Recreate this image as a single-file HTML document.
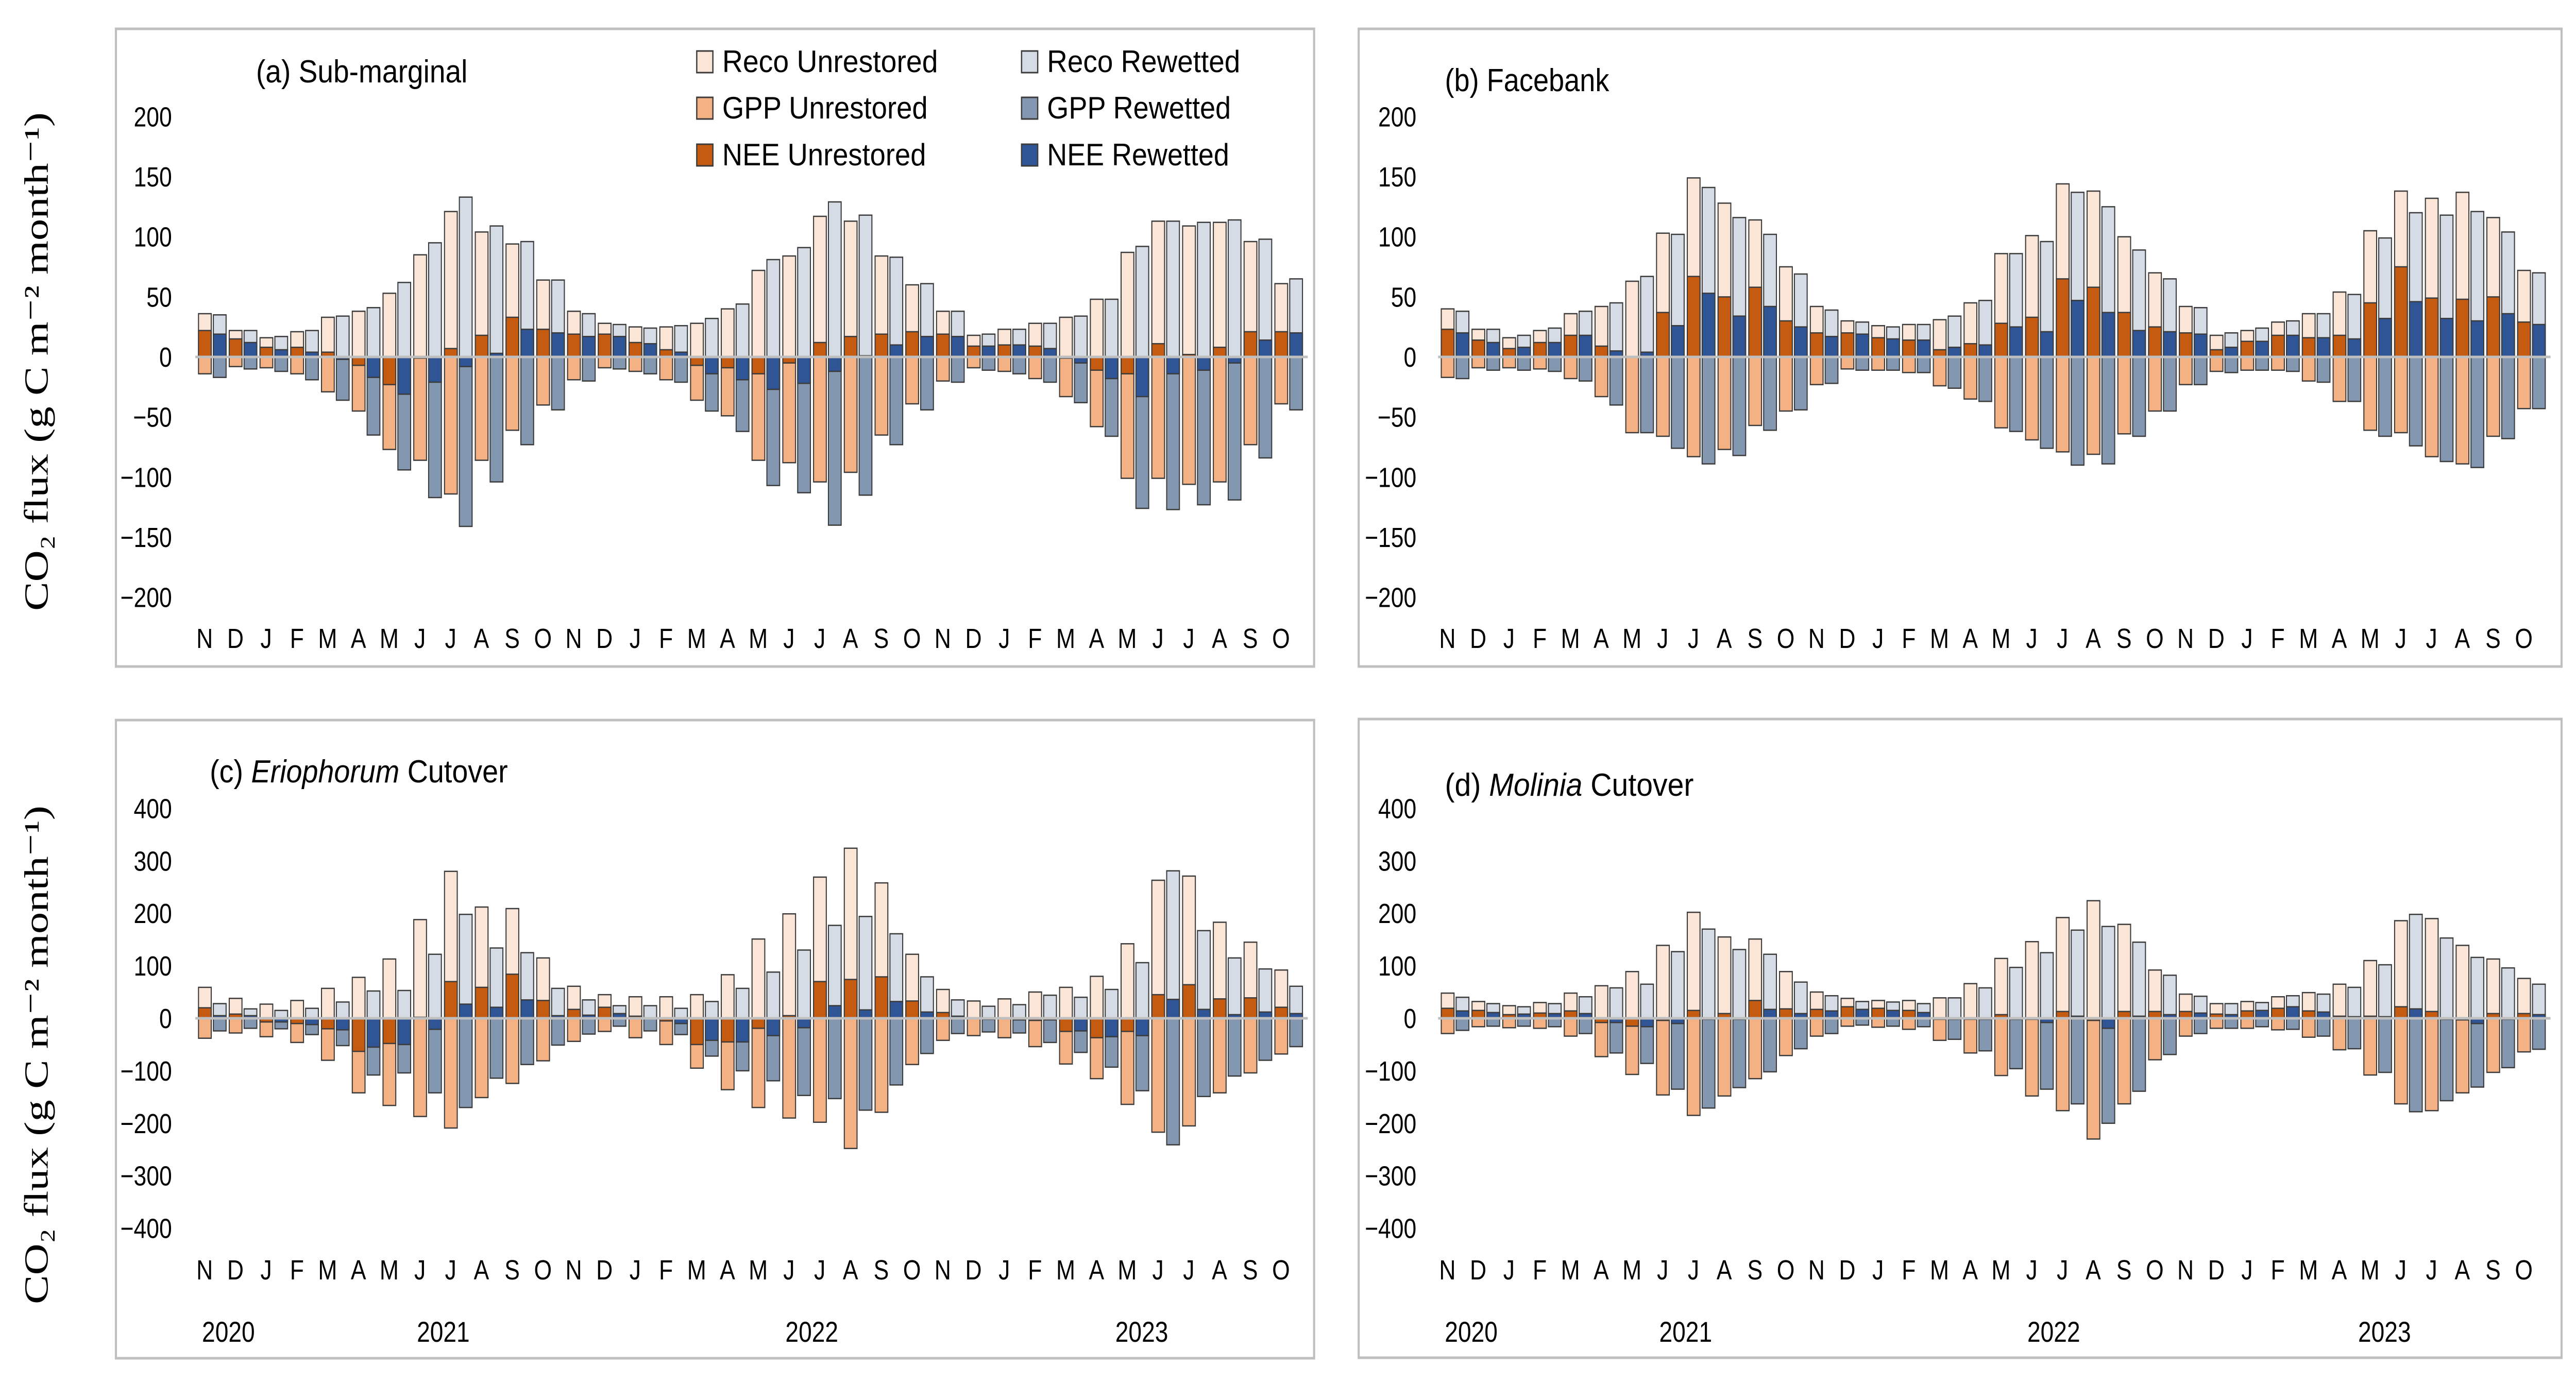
<!DOCTYPE html>
<html><head><meta charset="utf-8"><title>CO2 flux panels</title>
<style>
html,body{margin:0;padding:0;background:#fff;width:100%;height:100%;overflow:hidden;}
svg{display:block;width:100vw;height:100vh;}
text{font-family:"Liberation Sans",sans-serif;fill:#000;}
.serif{font-family:"Liberation Serif",serif;}
</style></head>
<body>
<svg id="chart" xmlns="http://www.w3.org/2000/svg" viewBox="0 0 6067 2687" preserveAspectRatio="none">
<rect x="0" y="0" width="6067" height="2687" fill="#fff"/>
</svg>
<script>
const months = ['N','D','J','F','M','A','M','J','J','A','S','O','N','D','J','F','M','A','M','J','J','A','S','O','N','D','J','F','M','A','M','J','J','A','S','O'];
const yearLabels = ['2020','2021','2022','2023'];
const ticksTop = [200,150,100,50,0,-50,-100,-150,-200];
const ticksBottom = [400,300,200,100,0,-100,-200,-300,-400];

const aRecoU = [36,22,16,21,33,38,53,85,121,104,94,64, 38,28,25,25,28,40,72,84,117,113,84,60, 38,18,23,28,33,48,87,113,109,112,96,61];
const aGppU = [-14,-8,-9,-14,-29,-45,-77,-86,-114,-86,-61,-40, -19,-9,-12,-19,-36,-49,-86,-88,-104,-96,-65,-39, -20,-9,-12,-18,-33,-58,-101,-101,-106,-104,-73,-39];
const aNeeU = [22,15,8,8,4,-7,-23,-1,7,18,33,23, 19,19,12,6,-7,-9,-14,-5,12,17,19,21, 19,9,10,9,-1,-11,-14,11,2,8,21,21];
const aRecoR = [35,22,17,22,34,41,62,95,133,109,96,64, 36,27,24,26,32,44,81,91,129,118,83,61, 38,19,23,28,34,48,92,113,112,114,98,65];
const aGppR = [-17,-10,-12,-19,-36,-65,-94,-117,-141,-104,-73,-44, -20,-10,-14,-21,-45,-62,-107,-113,-140,-115,-73,-44, -21,-11,-14,-21,-38,-66,-126,-127,-123,-119,-84,-44];
const aNeeR = [19,12,6,4,-2,-17,-31,-21,-8,3,23,20, 17,17,11,4,-14,-19,-27,-22,-12,1,10,17, 17,9,10,7,-5,-18,-33,-14,-11,-5,14,20];

const bRecoU = [40,23,16,22,36,42,63,103,149,128,114,75, 42,30,26,27,31,45,86,101,144,138,100,70, 42,18,22,29,36,54,105,138,132,137,116,72];
const bGppU = [-17,-9,-9,-10,-18,-33,-63,-66,-83,-77,-57,-45, -23,-10,-11,-13,-24,-35,-59,-69,-79,-81,-64,-45, -23,-12,-11,-11,-20,-37,-61,-63,-83,-89,-66,-43];
const bNeeU = [23,14,7,12,18,9,0,37,67,50,58,30, 20,20,16,14,6,11,28,33,65,58,37,25, 20,6,13,18,16,18,45,75,49,48,50,29];
const bRecoR = [38,23,18,24,38,45,67,102,141,116,102,69, 39,29,25,27,34,47,86,96,137,125,89,65, 41,20,24,30,36,52,99,120,118,121,104,70];
const bGppR = [-18,-11,-11,-12,-20,-40,-63,-76,-89,-82,-61,-44, -22,-11,-11,-13,-26,-37,-62,-76,-90,-89,-66,-45, -23,-13,-11,-12,-21,-37,-66,-74,-87,-92,-68,-43];
const bNeeR = [20,12,8,12,18,5,4,26,53,34,42,25, 17,19,15,14,8,10,25,21,47,37,22,21, 19,8,13,18,16,15,32,46,32,30,36,27];

const cRecoU = [59,38,27,34,57,78,113,188,280,212,209,115, 61,45,41,41,45,83,151,199,269,324,258,122, 55,33,37,50,59,80,142,263,271,183,145,92];
const cGppU = [-38,-28,-35,-46,-80,-142,-166,-187,-209,-151,-124,-81, -44,-25,-37,-50,-95,-136,-170,-190,-198,-248,-179,-88, -42,-33,-37,-54,-87,-115,-164,-217,-205,-142,-104,-68];
const cNeeU = [20,8,-7,-10,-20,-63,-48,2,70,59,84,34, 17,21,4,-5,-50,-45,-19,5,70,74,79,33, 11,0,0,-4,-25,-37,-25,45,64,37,39,21];
const cRecoR = [28,18,15,19,31,52,53,122,198,134,125,57, 35,24,24,19,32,57,88,130,177,194,161,79, 35,23,26,44,40,55,106,281,167,115,94,61];
const cGppR = [-24,-19,-20,-31,-52,-108,-104,-142,-170,-114,-88,-51, -30,-15,-24,-31,-72,-100,-119,-147,-153,-175,-127,-67, -29,-26,-28,-46,-65,-93,-138,-241,-149,-110,-80,-54];
const cNeeR = [5,5,-7,-12,-22,-55,-50,-21,27,21,35,5, 6,9,0,-10,-42,-45,-33,-18,24,16,32,12, 4,-2,-3,-3,-24,-35,-33,36,17,7,12,9];

const dRecoU = [48,32,24,30,48,62,89,139,202,155,151,89, 50,38,34,34,39,66,114,146,192,224,179,92, 46,28,32,41,49,65,110,186,190,139,113,76];
const dGppU = [-29,-16,-18,-19,-34,-73,-107,-146,-185,-148,-115,-71, -34,-15,-17,-21,-42,-66,-109,-148,-176,-230,-163,-79, -34,-19,-19,-22,-36,-60,-108,-163,-176,-142,-103,-64];
const dNeeU = [19,15,7,10,14,-8,-15,-4,15,9,34,18, 17,22,19,15,-2,-2,7,-2,13,-4,13,13, 13,8,14,19,14,4,4,22,13,-3,9,9];
const dRecoR = [40,28,22,28,41,58,65,127,170,131,122,69, 43,32,31,28,39,58,97,125,168,175,145,82, 42,28,30,43,46,59,102,198,153,116,96,65];
const dGppR = [-23,-15,-15,-16,-29,-66,-86,-135,-171,-132,-102,-58, -29,-13,-15,-16,-40,-62,-96,-135,-163,-200,-139,-69, -29,-19,-16,-21,-34,-58,-103,-178,-157,-131,-94,-59];
const dNeeR = [14,11,8,9,9,-8,-16,-10,-2,-2,17,9, 14,17,15,11,-2,-2,-2,-8,4,-19,4,7, 10,7,15,22,12,3,3,18,-2,-10,-2,7];

const NS = 'http://www.w3.org/2000/svg';
const svg = document.getElementById('chart');
const COL = {recoU:'#FBE5D6', gppU:'#F4B183', neeU:'#C55A11', recoR:'#D6DCE5', gppR:'#8497B0', neeR:'#2F5597'};

function mk(tag, attrs, parent){
  const e = document.createElementNS(NS, tag);
  for (const k in attrs) e.setAttribute(k, attrs[k]);
  (parent||svg).appendChild(e);
  return e;
}
function txt(s, attrs, parent){
  const t = mk('text', attrs, parent);
  t.textContent = s;
  return t;
}

const panels = [
  {id:'a', title:'(a) Sub-marginal', italic:null, fx:273, fy:56, fw:2822, fh:1238, x0:500, zero:693, k:2.333, ticks:ticksTop, tickX:405, monthY:1258, years:false,
   titleX:603, titleY:160, titleW:498,
   recoU:aRecoU, gppU:aGppU, neeU:aNeeU, recoR:aRecoR, gppR:aGppR, neeR:aNeeR},
  {id:'b', title:'(b) Facebank', italic:null, fx:3200, fy:56, fw:2833, fh:1238, x0:3427, zero:693, k:2.333, ticks:ticksTop, tickX:3336, monthY:1258, years:false,
   titleX:3403, titleY:177, titleW:387,
   recoU:bRecoU, gppU:bGppU, neeU:bNeeU, recoR:bRecoR, gppR:bGppR, neeR:bNeeR},
  {id:'c', title:'Cutover', italic:'Eriophorum', fx:273, fy:1398, fw:2822, fh:1239, x0:500, zero:1977, k:1.019, ticks:ticksBottom, tickX:405, monthY:2484, years:true,
   titleX:494, titleY:1519, titleW:702, yearX:[538,1044,1912,2689],
   recoU:cRecoU, gppU:cGppU, neeU:cNeeU, recoR:cRecoR, gppR:cGppR, neeR:cNeeR},
  {id:'d', title:'Cutover', italic:'Molinia', fx:3200, fy:1396, fw:2833, fh:1240, x0:3427, zero:1977, k:1.019, ticks:ticksBottom, tickX:3336, monthY:2484, years:true,
   titleX:3403, titleY:1545, titleW:586, yearX:[3465,3970,4837,5616],
   recoU:dRecoU, gppU:dGppU, neeU:dNeeU, recoR:dRecoR, gppR:dGppR, neeR:dNeeR}
];

const STEP = 72.43, BW = 30, OFF = 17.5;

function bar(g, cx, v, zero, k, fill){
  const y1 = zero - v*k;
  const r = mk('rect', {x:(cx-BW/2).toFixed(1), y:Math.min(y1,zero).toFixed(1), width:BW, height:Math.max(Math.abs(v*k),0.5).toFixed(1), fill:fill, stroke:'#3b3b3b', 'stroke-width':2.5}, g);
  return r;
}

panels.forEach(p => {
  const g = mk('g', {});
  
  
  const fr = mk('rect', {x:p.fx, y:p.fy, width:p.fw, height:p.fh, fill:'none', stroke:'#bfbfbf', 'stroke-width':5}, g);
  
  

  const t = mk('text', {x:p.titleX, y:p.titleY, 'font-size':62, textLength:p.titleW, lengthAdjust:'spacingAndGlyphs'}, g);
  
  
  if (p.italic){
    const pref = p.id === 'c' ? '(c) ' : '(d) ';
    const s1 = mk('tspan', {}, t); s1.textContent = pref;
    const s2 = mk('tspan', {'font-style':'italic'}, t); s2.textContent = p.italic;
    const s3 = mk('tspan', {}, t); s3.textContent = ' ' + p.title;
  } else {
    t.textContent = p.title;
  }

  p.ticks.forEach(v => {
    const tl = txt(String(v).replace('-', '\u2212'), {x:p.tickX, y:(p.zero - v*p.k + 19).toFixed(1), 'font-size':54, 'text-anchor':'end'}, g);
    
    
  });

  for (let i = 0; i < months.length; i++){
    const c = p.x0 + i*STEP;
    const cu = c - OFF, cr = c + OFF;
    let r;
    r = bar(g, cu, p.recoU[i], p.zero, p.k, COL.recoU);
    
    
    r = bar(g, cu, p.gppU[i], p.zero, p.k, COL.gppU);
    
    
    r = bar(g, cu, p.neeU[i], p.zero, p.k, COL.neeU);
    
    
    r = bar(g, cr, p.recoR[i], p.zero, p.k, COL.recoR);
    
    
    r = bar(g, cr, p.gppR[i], p.zero, p.k, COL.gppR);
    
    
    r = bar(g, cr, p.neeR[i], p.zero, p.k, COL.neeR);
    
    

    const ml = txt(months[i], {x:(c-18).toFixed(1), y:p.monthY, 'font-size':54, 'text-anchor':'middle'}, g);
    
    
  }

  const zl = mk('line', {x1:p.x0-40, x2:p.x0+35*STEP+45, y1:p.zero, y2:p.zero, stroke:'#bfbfbf', 'stroke-width':5}, g);
  
  

  if (p.years){
    yearLabels.forEach((y, j) => {
      const yl = txt(y, {x:p.yearX[j], y:2605, 'font-size':56, 'text-anchor':'middle'}, g);
      
      
    });
  }
});

[{cy:702},{cy:2048}].forEach(o => {
  const yt = txt('CO\u2082 flux (g C m\u207B\u00B2 month\u207B\u00B9)', {x:0, y:0, 'font-size':80, 'text-anchor':'middle', class:'serif', textLength:968, lengthAdjust:'spacingAndGlyphs', transform:'translate(112,' + o.cy + ') rotate(-90)'});
  
  
});

const legendItems = [
  {label:'Reco Unrestored', col:COL.recoU, x:1641, y:120, w:508},
  {label:'GPP Unrestored', col:COL.gppU, x:1641, y:210, w:484},
  {label:'NEE Unrestored', col:COL.neeU, x:1641, y:301, w:480},
  {label:'Reco Rewetted', col:COL.recoR, x:2406, y:120, w:455},
  {label:'GPP Rewetted', col:COL.gppR, x:2406, y:210, w:433},
  {label:'NEE Rewetted', col:COL.neeR, x:2406, y:301, w:429}
];
const lg = mk('g', {});


legendItems.forEach(it => {
  const sw = mk('rect', {x:it.x, y:it.y-21, width:38, height:42, fill:it.col, stroke:'#3b3b3b', 'stroke-width':3}, lg);
  
  
  const lt = txt(it.label, {x:it.x+60, y:it.y+20, 'font-size':60, textLength:it.w, lengthAdjust:'spacingAndGlyphs'}, lg);
  
  
});
</script>
</body></html>
